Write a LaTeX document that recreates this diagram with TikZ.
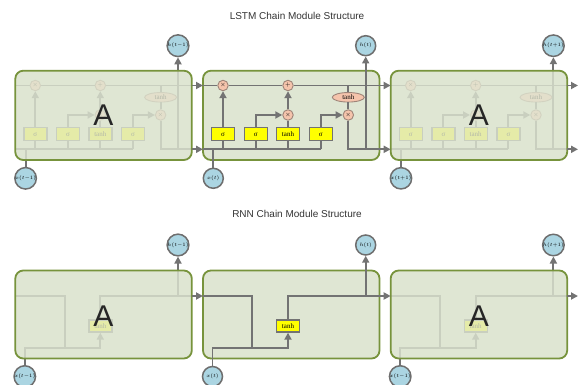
\documentclass[tikz,border=0pt]{standalone}
\usepackage{fontspec}
\newfontfamily\arialf{Liberation Sans}
\newfontfamily\timesf{Liberation Serif}
\usetikzlibrary{arrows.meta,shapes.geometric}
\definecolor{lc}{HTML}{737373}
\definecolor{boxfill}{HTML}{DFE6D3}
\definecolor{boxline}{HTML}{77933C}
\definecolor{gatey}{HTML}{FFFF00}
\definecolor{opfill}{HTML}{F5C4AC}
\definecolor{opline}{HTML}{9E8478}
\definecolor{iofill}{HTML}{ABD5E2}
\definecolor{ioline}{HTML}{6E6E6E}
\definecolor{titlec}{HTML}{333333}
\tikzset{
 ln/.style={draw=lc,line width=1.9pt},
 arr/.style={ln,-{Triangle[length=7pt,width=7pt]}},
 gate/.style={draw=lc,line width=1.4pt,fill=gatey,minimum width=23pt,minimum height=13pt,inner sep=0pt,font=\timesf\fontsize{7}{8}\selectfont},
 op/.style={circle,draw=opline,line width=0.9pt,fill=opfill,minimum size=10.5pt,inner sep=0pt,font=\fontsize{6}{6}\selectfont},
 tanhop/.style={ellipse,draw=opline,line width=0.9pt,fill=opfill,minimum width=32pt,minimum height=9.5pt,inner sep=0pt,font=\timesf\fontsize{7}{8}\selectfont},
 io/.style={circle,draw=ioline,line width=1.5pt,fill=iofill,minimum size=20pt,inner sep=0pt,font=\fontsize{5}{6}\selectfont},
 cellbox/.style={draw=boxline,line width=1.8pt,rounded corners=8pt,fill=boxfill},
 basebox/.style={rounded corners=8pt,fill=boxfill},
 fadebox/.style={cellbox,fill opacity=0.8},
 bigA/.style={font=\arialf\fontsize{30}{30}\selectfont,text=black!85},
 ttl/.style={font=\arialf\fontsize{10}{12}\selectfont,text=titlec}
}
\newcommand\lstmcell[2]{%
 \coordinate (cin) at (203,85.5);
 \coordinate (cout) at (379.5,85.5);
 \coordinate (hin) at (203,149.3);
 \coordinate (hout) at (379.5,149.3);
 \coordinate (tap) at (348.3,85.5);
 \coordinate (hx) at (365.7,149.3);
 \node[op] (fx) at (223,85.5) {$\times$};
 \node[op] (pl) at (288,85.5) {$+$};
 \node[op] (ix) at (288,115) {$\times$};
 \node[op] (ox) at (348.3,115) {$\times$};
 \node[tanhop] (te) at (348.3,97.3) {tanh};
 \node[gate] (s1) at (223,134.3) {σ};
 \node[gate] (s2) at (255.7,134.3) {σ};
 \node[gate] (g3) at (288,134.3) {tanh};
 \node[gate] (s3) at (320.7,134.3) {σ};
 \node[io] (ht) at (365.7,45.7) {#1};
 \node[io] (xt) at (213.3,178.3) {#2};
 \draw[ln] (cin) -- (fx) -- (pl) -- (cout);
 \draw[ln] (tap) -- (te);
 \draw[ln] (te) -- (ox);
 \draw[ln] (hin) -- (s3.south |- hin);
 \draw[ln] (s1) -- (s1 |- hin);
 \draw[ln] (s2) -- (s2 |- hin);
 \draw[ln] (g3) -- (g3 |- hin);
 \draw[ln] (s3) -- (s3 |- hin);
 \draw[ln] (xt) -- (xt |- hin);
 \draw[arr] (s1) -- (fx);
 \draw[arr] (s2.north) |- (ix);
 \draw[ln] (g3) -- (ix);
 \draw[arr] (ix) -- (pl);
 \draw[arr] (s3.north) |- (ox);
 \draw[ln] (ox) |- (hout);
 \draw[arr] (hx) -- (ht);
}
\newcommand\rnncell[2]{%
 \coordinate (hin) at (203,296);
 \coordinate (hout) at (379.5,296);
 \coordinate (bendA) at (252.3,296);
 \coordinate (bendB) at (252.3,347.7);
 \coordinate (hx) at (365.7,296);
 \node[gate,minimum height=12pt] (tg) at (288,326) {tanh};
 \node[io] (ht) at (365.7,245) {#1};
 \node[io] (xt) at (212.5,376.5) {#2};
 \draw[ln] (hin) -- (bendA) -- (bendB);
 \draw[arr] (xt) -- (xt |- bendB) -- (tg |- bendB) -- (tg);
 \draw[ln] (tg) -- (tg |- hout) -- (hout);
 \draw[arr] (hx) -- (ht);
}
\begin{document}
\begin{tikzpicture}[x=1pt,y=-1pt]
\useasboundingbox (0,0) rectangle (579,385);
\node[ttl] (t1) at (297,16) {LSTM Chain Module Structure};
\node[ttl] (t2) at (297,214) {RNN Chain Module Structure};
% LSTM left
\begin{scope}[xshift=-187.7pt,name prefix=L-]
 \fill[basebox] (203,70.7) rectangle (379.5,160);
 \lstmcell{$h(t{-}1)$}{$x(t{-}1)$}
 \draw[fadebox] (203,70.7) rectangle (379.5,160);
 \node[bigA] (A) at (291.2,115) {A};
\end{scope}
% LSTM middle
\begin{scope}[name prefix=M-]
 \draw[cellbox] (203,70.7) rectangle (379.5,160);
 \lstmcell{$h(t)$}{$x(t)$}
\end{scope}
% LSTM right
\begin{scope}[xshift=187.7pt,name prefix=R-]
 \fill[basebox] (203,70.7) rectangle (379.5,160);
 \lstmcell{$h(t{+}1)$}{$x(t{+}1)$}
 \draw[fadebox] (203,70.7) rectangle (379.5,160);
 \node[bigA] (A) at (291.2,115) {A};
\end{scope}
\coordinate (ec) at (578,85.5);
\coordinate (eh) at (578,149.3);
\draw[arr] (L-cout) -- (M-cin);
\draw[arr] (L-hout) -- (M-hin);
\draw[arr] (M-cout) -- (R-cin);
\draw[arr] (M-hout) -- (R-hin);
\draw[arr] (R-cout) -- (ec);
\draw[arr] (R-hout) -- (eh);
% RNN left
\begin{scope}[xshift=-187.7pt,name prefix=rL-]
 \fill[basebox] (203,270.5) rectangle (379.5,358.5);
 \rnncell{$h(t{-}1)$}{$x(t{-}1)$}
 \draw[fadebox] (203,270.5) rectangle (379.5,358.5);
 \node[bigA] (A) at (291.2,316) {A};
\end{scope}
\begin{scope}[name prefix=rM-]
 \draw[cellbox] (203,270.5) rectangle (379.5,358.5);
 \rnncell{$h(t)$}{$x(t)$}
\end{scope}
\begin{scope}[xshift=187.7pt,name prefix=rR-]
 \fill[basebox] (203,270.5) rectangle (379.5,358.5);
 \rnncell{$h(t{+}1)$}{$x(t{-}1)$}
 \draw[fadebox] (203,270.5) rectangle (379.5,358.5);
 \node[bigA] (A) at (291.2,316) {A};
\end{scope}
\coordinate (er) at (578,296);
\draw[arr] (rL-hout) -- (rM-hin);
\draw[arr] (rM-hout) -- (rR-hin);
\draw[arr] (rR-hout) -- (er);
\end{tikzpicture}
\end{document}
